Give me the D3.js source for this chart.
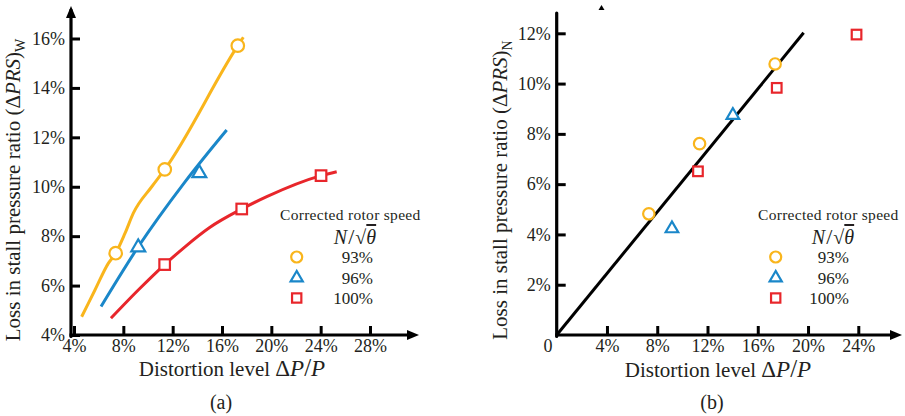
<!DOCTYPE html>
<html><head><meta charset="utf-8">
<script src="https://cdn.jsdelivr.net/npm/d3@7"></script>
<style>
html,body{margin:0;padding:0;background:#fff;}
svg{display:block;}
text{font-family:"Liberation Serif","Times New Roman",serif;fill:#231f20;}
</style></head>
<body>
<svg id="chart" width="905" height="416"></svg>
<script>
// ---------- data ----------
const seriesNames = ["93%", "96%", "100%"];
const seriesColors = ["#f9b51c", "#1a87c9", "#e8262b"];
const seriesShapes = ["circle", "triangle", "square"];

// (a) measured points [distortion %, loss %]
const pointsA93 = [[7.38, 7.31], [11.36, 10.7], [17.28, 15.71]];
const pointsA96 = [[9.21, 7.57], [14.16, 10.57]];
const pointsA100 = [[11.35, 6.85], [17.6, 9.1], [24.03, 10.45]];
// (a) fitted curves
const curveA93 = [[4.62, 4.74], [5.7, 5.82], [6.78, 6.9], [7.38, 7.31], [8.14, 8.12], [8.81, 8.93], [10.3, 10.0], [11.36, 10.7], [17.28, 15.71], [17.73, 16.05]];
const curveA96 = [[6.19, 5.15], [9.21, 7.57], [13.0, 10.2], [16.38, 12.3]];
const curveA100 = [[7.0, 4.68], [9.21, 5.82], [11.35, 6.85], [13.0, 7.57], [15.0, 8.35], [17.6, 9.1], [19.63, 9.6], [24.03, 10.45], [25.3, 10.61]];

// (b) normalised points
const pointsB93 = [[7.33, 4.82], [11.37, 7.61], [17.38, 10.78]];
const pointsB96 = [[9.17, 4.25], [14.02, 8.76]];
const pointsB100 = [[11.24, 6.51], [17.51, 9.83], [23.86, 11.95]];
const fitLineB = [[0, 0], [19.65, 12.02]];

// tick labels
const xTicksA = [4, 8, 12, 16, 20, 24, 28];
const yTicksA = [4, 6, 8, 10, 12, 14, 16];
const xTicksB = [4, 8, 12, 16, 20, 24];
const yTicksB = [2, 4, 6, 8, 10, 12];

// ---------- drawing ----------
const svg = d3.select("#chart");
const pct = d => d + "%";

const xA = d3.scaleLinear().domain([4, 28]).range([74, 370]);
const yA = d3.scaleLinear().domain([4, 16]).range([335, 38.5]);
const xB = d3.scaleLinear().domain([0, 24]).range([556.7, 858.3]);
const yB = d3.scaleLinear().domain([0, 12]).range([335, 33.3]);

function arrowHead(g, x, y, dir) {
  const L = 12, W = 5;
  let p;
  if (dir === "up") p = [[x, y], [x - W, y + L], [x + W, y + L]];
  else p = [[x, y], [x - L, y - W], [x - L, y + W]];
  g.append("path").attr("d", "M" + p.join("L") + "Z").attr("fill", "#000");
}

function drawAxes(g, x, y, xTicks, yTicks, x0, y0, yTop, xRight, yArrow) {
  const ax = g.append("g").attr("transform", `translate(0,${y0})`)
    .call(d3.axisBottom(x).tickValues(xTicks).tickFormat(pct).tickSizeInner(-9).tickSizeOuter(0).tickPadding(4));
  const ay = g.append("g").attr("transform", `translate(${x0},0)`)
    .call(d3.axisLeft(y).tickValues(yTicks).tickFormat(pct).tickSizeInner(-9).tickSizeOuter(0).tickPadding(6));
  [ax, ay].forEach(a => {
    a.select(".domain").remove();
    a.selectAll(".tick line").attr("stroke", "#000").attr("stroke-width", 3);
    a.selectAll(".tick text").attr("font-size", 18).attr("font-family", "Liberation Serif, serif").attr("fill", "#231f20");
  });
  g.append("line").attr("x1", x0).attr("x2", x0).attr("y1", y0 + 1.5).attr("y2", yTop)
    .attr("stroke", "#000").attr("stroke-width", 3.2).attr("stroke-linecap", "round");
  g.append("line").attr("x1", x0 - 1.5).attr("x2", xRight - 8).attr("y1", y0).attr("y2", y0)
    .attr("stroke", "#000").attr("stroke-width", 3.2);
  arrowHead(g, xRight, y0, "right");
  if (yArrow) arrowHead(g, x0, yTop - 4, "up");
}

function marker(g, shape, cx, cy, color, s) {
  if (shape === "circle") {
    g.append("circle").attr("cx", cx).attr("cy", cy).attr("r", s * 0.95)
      .attr("fill", "#fff").attr("stroke", color).attr("stroke-width", 2.2);
  } else if (shape === "triangle") {
    const h = s * 1.8, w = s * 2.1;
    g.append("path").attr("d", `M${cx},${cy - h * 0.62}L${cx - w / 2},${cy + h * 0.38}L${cx + w / 2},${cy + h * 0.38}Z`)
      .attr("fill", "#fff").attr("stroke", color).attr("stroke-width", 2.2);
  } else {
    const a = s * 1.6;
    g.append("rect").attr("x", cx - a / 2).attr("y", cy - a / 2).attr("width", a).attr("height", a)
      .attr("fill", "#fff").attr("stroke", color).attr("stroke-width", 2.2);
  }
}

function legend(g, tx, ty, mx, labelRight, rows) {
  g.append("text").attr("x", tx).attr("y", ty).attr("font-size", 15.5).attr("letter-spacing", 0.3)
    .text("Corrected rotor speed");
  const n = g.append("text").attr("x", tx + 75).attr("y", ty + 24).attr("text-anchor", "middle").attr("font-size", 20);
  n.append("tspan").attr("font-style", "italic").text("N");
  n.append("tspan").attr("font-size", 22).attr("dx", 1).text("/");
  n.append("tspan").attr("dx", 1).text("√");
  n.append("tspan").attr("font-style", "italic").attr("text-decoration", "overline").text("θ");
  rows.forEach((r, i) => {
    const cy = ty + 37 + i * 20.5;
    marker(g, seriesShapes[i], mx, cy, seriesColors[i], 5.8);
    g.append("text").attr("x", labelRight).attr("y", cy + 6).attr("text-anchor", "end").attr("font-size", 17)
      .text(seriesNames[i]);
  });
}

function xTitle(g, x, y) {
  const t = g.append("text").attr("x", x).attr("y", y).attr("text-anchor", "middle").attr("font-size", 21);
  t.append("tspan").text("Distortion level  ");
  t.append("tspan").attr("font-size", 23).text("Δ");
  t.append("tspan").attr("font-size", 23).attr("font-style", "italic").text("P");
  t.append("tspan").attr("font-size", 25).text("/");
  t.append("tspan").attr("font-size", 23).attr("font-style", "italic").text("P");
}

function yTitle(g, x, y, sub) {
  g.append("text").attr("transform", `translate(${x},${y}) rotate(-90)`).attr("text-anchor", "middle").attr("font-size", 21)
    .call(t => {
      t.append("tspan").text("Loss in stall pressure ratio (Δ");
      t.append("tspan").attr("font-style", "italic").text("PRS");
      t.append("tspan").text(")");
      t.append("tspan").attr("font-size", 14).attr("dy", 5).text(sub);
    });
}

// ----- panel (a) -----
const gA = svg.append("g");
drawAxes(gA, xA, yA, xTicksA, yTicksA, 71, 335, 10, 419, true);
const lineA = d3.line().x(d => xA(d[0])).y(d => yA(d[1])).curve(d3.curveMonotoneX);
[curveA93, curveA96, curveA100].forEach((c, i) => {
  gA.append("path").datum(c).attr("d", lineA).attr("fill", "none")
    .attr("stroke", seriesColors[i]).attr("stroke-width", 3);
});
[pointsA93, pointsA96, pointsA100].forEach((pts, i) => {
  pts.forEach(p => marker(gA, seriesShapes[i], xA(p[0]), yA(p[1]), seriesColors[i], 6.6));
});
legend(gA, 280, 220, 296.7, 373, seriesNames);
yTitle(gA, 20, 190, "W");
xTitle(gA, 232, 376);
gA.append("text").attr("x", 221).attr("y", 409).attr("text-anchor", "middle").attr("font-size", 20).text("(a)");

// ----- panel (b) -----
const gB = svg.append("g");
drawAxes(gB, xB, yB, xTicksB, yTicksB, 556.7, 335, 13, 902, false);
gB.append("path").attr("d", "M601.5,5L598.5,10L604.5,10Z").attr("fill", "#000");
gB.append("text").attr("x", 548).attr("y", 352).attr("text-anchor", "middle").attr("font-size", 18).text("0");
const lineB = d3.line().x(d => xB(d[0])).y(d => yB(d[1]));
gB.append("path").datum(fitLineB).attr("d", lineB).attr("fill", "none").attr("stroke", "#000").attr("stroke-width", 3);
[pointsB93, pointsB96, pointsB100].forEach((pts, i) => {
  pts.forEach(p => marker(gB, seriesShapes[i], xB(p[0]), yB(p[1]), seriesColors[i], 6.0));
});
legend(gB, 758, 220, 775.7, 849, seriesNames);
yTitle(gB, 507, 190, "N");
xTitle(gB, 718, 377);
gB.append("text").attr("x", 712).attr("y", 409).attr("text-anchor", "middle").attr("font-size", 20).text("(b)");
</script>
</body></html>
